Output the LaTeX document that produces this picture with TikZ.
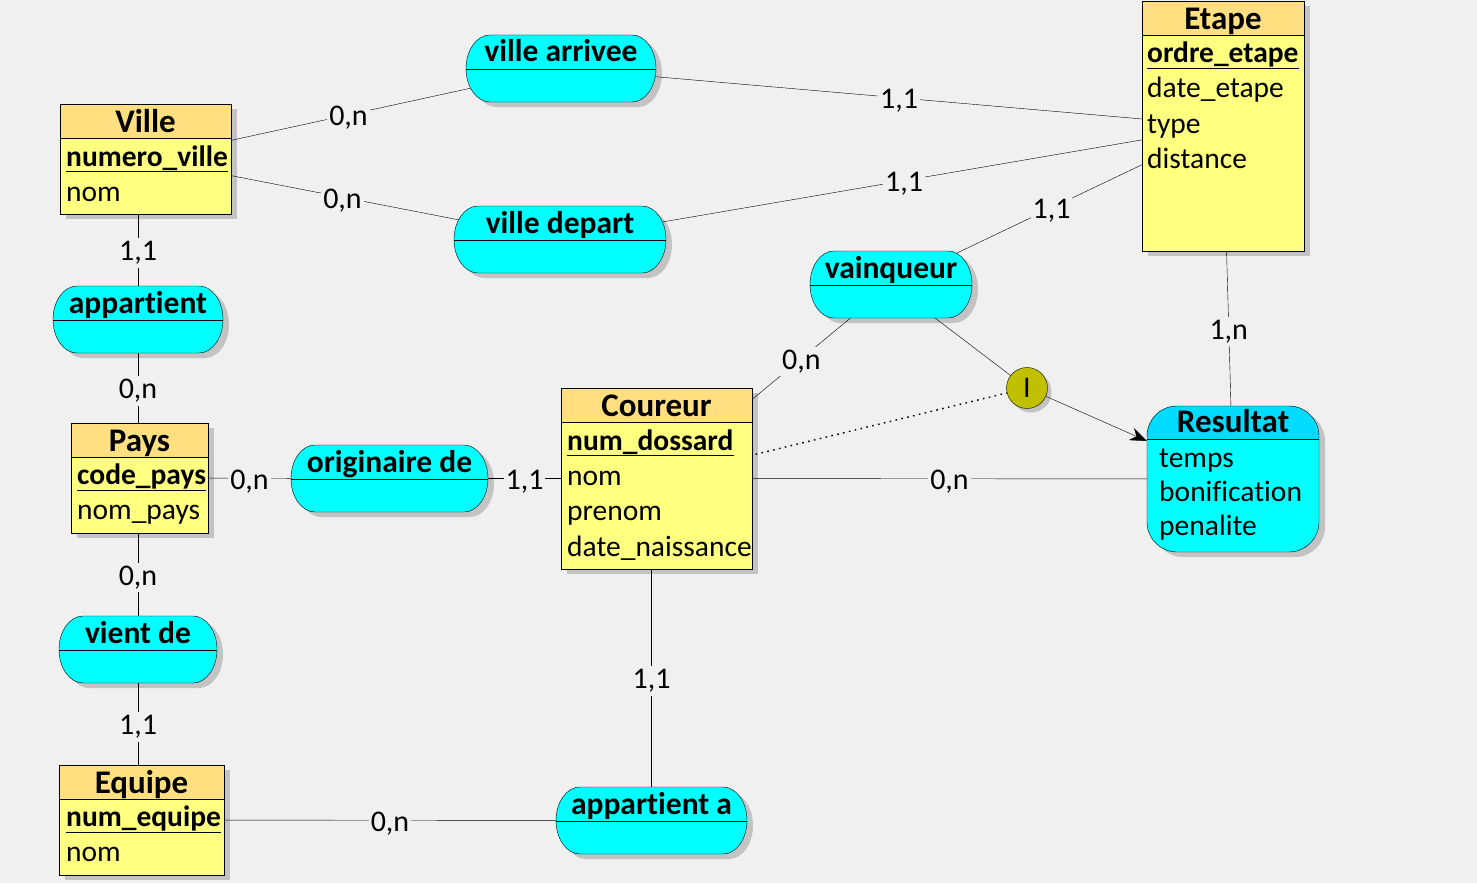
\documentclass[tikz,border=0pt]{standalone}
\usepackage{fontspec}
\setmainfont{Carlito}[Ligatures={NoCommon}]
\usetikzlibrary{arrows.meta,calc}
\definecolor{bgc}{HTML}{F0F0F0}
\definecolor{enttitle}{HTML}{FFDF80}
\definecolor{entbody}{HTML}{FFFF80}
\definecolor{assocc}{HTML}{00FFFF}
\definecolor{restitle}{HTML}{00DCFF}
\definecolor{shadowc}{HTML}{C3C3C3}
\definecolor{olivec}{HTML}{C0C000}
\pgfdeclarelayer{bg}
\pgfdeclarelayer{edges}
\pgfsetlayers{bg,edges,main}
\tikzset{
 entt/.style={font=\fontsize{33}{39}\selectfont\bfseries, inner sep=0},
 asst/.style={font=\fontsize{31.5}{37}\selectfont\bfseries, inner sep=0},
 attr/.style={font=\fontsize{29.5}{35}\selectfont, inner sep=0, anchor=base west},
 keyattr/.style={font=\fontsize{29.5}{35}\selectfont\bfseries, inner sep=0, anchor=base west},
 card/.style={font=\fontsize{30}{36}\selectfont, fill=bgc, inner xsep=2pt, inner ysep=3pt, yshift=-3pt},
 hook/.style={inner sep=0, outer sep=0},
 dotline/.style={line width=1.4pt, dash pattern=on 1.6pt off 4.4pt},
 arr/.style={-{Stealth[length=17pt,width=13pt]}},
}
\newcommand\myEnt[6]{%
 \begin{pgfonlayer}{bg}\fill[shadowc] (#2+6,#3+5) rectangle ++(#4,#5);\end{pgfonlayer}
 \node[hook, fill=entbody, minimum width=#4, minimum height=#5, anchor=north west] (#1) at (#2,#3) {};
 \fill[enttitle] (#2,#3) rectangle ++(#4,34);
 \draw (#2,#3+34) -- ++(#4,0);
 \draw (#2,#3) rectangle ++(#4,#5);
 \node[entt, anchor=base] (#1-t) at (#2+#4/2,#3+28.5) {#6};
}
\newcommand\myAssoc[5]{%
 \begin{pgfonlayer}{bg}\fill[shadowc] (#2+30,#3+5) -- ++(#4-48,0) arc[start angle=90,end angle=-90,x radius=24pt,y radius=33.5pt] -- ++(-#4+48,0) arc[start angle=270,end angle=90,x radius=24pt,y radius=33.5pt] -- cycle;\end{pgfonlayer}
 \node[hook, minimum width=#4, minimum height=67, anchor=north west] (#1) at (#2,#3) {};
 \filldraw[fill=assocc] (#2+24,#3) -- ++(#4-48,0) arc[start angle=90,end angle=-90,x radius=24pt,y radius=33.5pt] -- ++(-#4+48,0) arc[start angle=270,end angle=90,x radius=24pt,y radius=33.5pt] -- cycle;
 \draw (#2,#3+34) -- ++(#4,0);
 \node[asst, anchor=base] (#1-t) at (#2+#4/2,#3+27) {#5};
}
\newcommand\myUline[1]{\draw ([yshift=-5.5pt]#1.base west) -- ([yshift=-5.5pt]#1.base east);}
\begin{document}
\begin{tikzpicture}[x=1pt,y=-1pt,line width=1.2pt]
\useasboundingbox (0,0) rectangle (1477,883);
\begin{pgfonlayer}{bg}\fill[bgc] (0,0) rectangle (1477,883);\end{pgfonlayer}

% entities
\myEnt{ville}{60}{104}{171}{110}{Ville}
\node[keyattr] (ville-a1) at (66,166) {numero\_ville}; \myUline{ville-a1}
\node[attr] (ville-a2) at (66,201.3) {nom};

\myEnt{etape}{1142}{1}{162}{250}{Etape}
\node[keyattr] (etape-a1) at (1147,62.5) {ordre\_etape}; \myUline{etape-a1}
\node[attr] (etape-a2) at (1147,97.8) {date\_etape};
\node[attr] (etape-a3) at (1147,133.1) {type};
\node[attr] (etape-a4) at (1147,168.4) {distance};

\myEnt{coureur}{561}{388}{191}{181}{Coureur}
\node[keyattr] (coureur-a1) at (567,450) {num\_dossard}; \myUline{coureur-a1}
\node[attr] (coureur-a2) at (567,485.5) {nom};
\node[attr] (coureur-a3) at (567,520.8) {prenom};
\node[attr] (coureur-a4) at (567,556) {date\_naissance};

\myEnt{pays}{71}{423}{137}{110}{Pays}
\node[keyattr] (pays-a1) at (77,484.5) {code\_pays}; \myUline{pays-a1}
\node[attr] (pays-a2) at (77,519.8) {nom\_pays};

\myEnt{equipe}{59}{765}{165}{110}{Equipe}
\node[keyattr] (equipe-a1) at (66,826.5) {num\_equipe}; \myUline{equipe-a1}
\node[attr] (equipe-a2) at (66,861.5) {nom};

% Resultat
\begin{pgfonlayer}{bg}\fill[shadowc, rounded corners=30pt] (1153,411) rectangle ++(172,146);\end{pgfonlayer}
\node[hook, minimum width=172, minimum height=146, anchor=north west] (res) at (1147,406) {};
\begin{scope}
\clip[rounded corners=30pt] (1147,406) rectangle ++(172,146);
\fill[assocc] (1147,406) rectangle ++(172,146);
\fill[restitle] (1147,406) rectangle ++(172,33.5);
\end{scope}
\draw (1147,439.5) -- ++(172,0);
\draw[rounded corners=30pt] (1147,406) rectangle ++(172,146);
\node[entt, anchor=base] (res-t) at (1233,432) {Resultat};
\node[attr] (res-a1) at (1159,467.5) {temps};
\node[attr] (res-a2) at (1159,501.5) {bonification};
\node[attr] (res-a3) at (1159,535.5) {penalite};

% associations
\myAssoc{varr}{466}{35}{190}{ville arrivee}
\myAssoc{vdep}{454}{206}{212}{ville depart}
\myAssoc{vainq}{810}{251}{162}{vainqueur}
\myAssoc{app}{53}{286}{170}{appartient}
\myAssoc{orig}{291}{445}{197}{originaire de}
\myAssoc{vde}{59}{616}{158}{vient de}
\myAssoc{appa}{556}{787}{191}{appartient a}

% I circle
\begin{pgfonlayer}{bg}\fill[shadowc] (1031,392) circle[radius=20.5pt];\end{pgfonlayer}
\node[circle, draw, fill=olivec, minimum size=41, inner sep=0, font=\fontsize{30}{36}\selectfont] (ci) at (1027,388) {I};

% diagonal connectors (under shapes)
\begin{pgfonlayer}{edges}
\draw (ville.center) -- (varr.center);
\draw (ville.center) -- (vdep.center);
\draw (varr.center) -- (etape.center);
\draw (vdep.center) -- (etape.center);
\draw (vainq.center) -- (etape.center);
\draw (coureur.center) -- (vainq.center);
\draw (vainq.center) -- (ci.center);
\draw[dotline] (coureur.center) -- (ci.center);
\draw (etape.center) -- (res.center);
\end{pgfonlayer}

% straight connectors
\draw (app.north) -- (app.north |- ville.south) node[card, midway] {1,1};
\draw (app.south) -- (app.south |- pays.north) node[card, midway] {0,n};
\draw (vde.north) -- (vde.north |- pays.south) node[card, midway] {0,n};
\draw (vde.south) -- (vde.south |- equipe.north) node[card, midway] {1,1};
\draw (pays) -- (orig) node[card, midway] {0,n};
\draw (orig) -- (coureur) node[card, midway] {1,1};
\draw (equipe) -- (appa) node[card, midway] {0,n};
\draw (appa.north) -- (appa.north |- coureur.south) node[card, midway] {1,1};
\draw (coureur) -- (res) node[card, midway] {0,n};

% labels of diagonal connectors
\path (ville) -- node[card] (l1) {0,n} (varr);
\path (ville) -- node[card] (l2) {0,n} (vdep);
\path (varr) -- node[card] (l3) {1,1} (etape);
\path (vdep) -- node[card] (l4) {1,1} (etape);
\path (vainq) -- node[card] (l5) {1,1} (etape);
\path (coureur) -- node[card] (l6) {0,n} (vainq);
\path (etape) -- node[card] (l7) {1,n} (res);

\draw[arr] (ci) -- (res);
\end{tikzpicture}
\end{document}
